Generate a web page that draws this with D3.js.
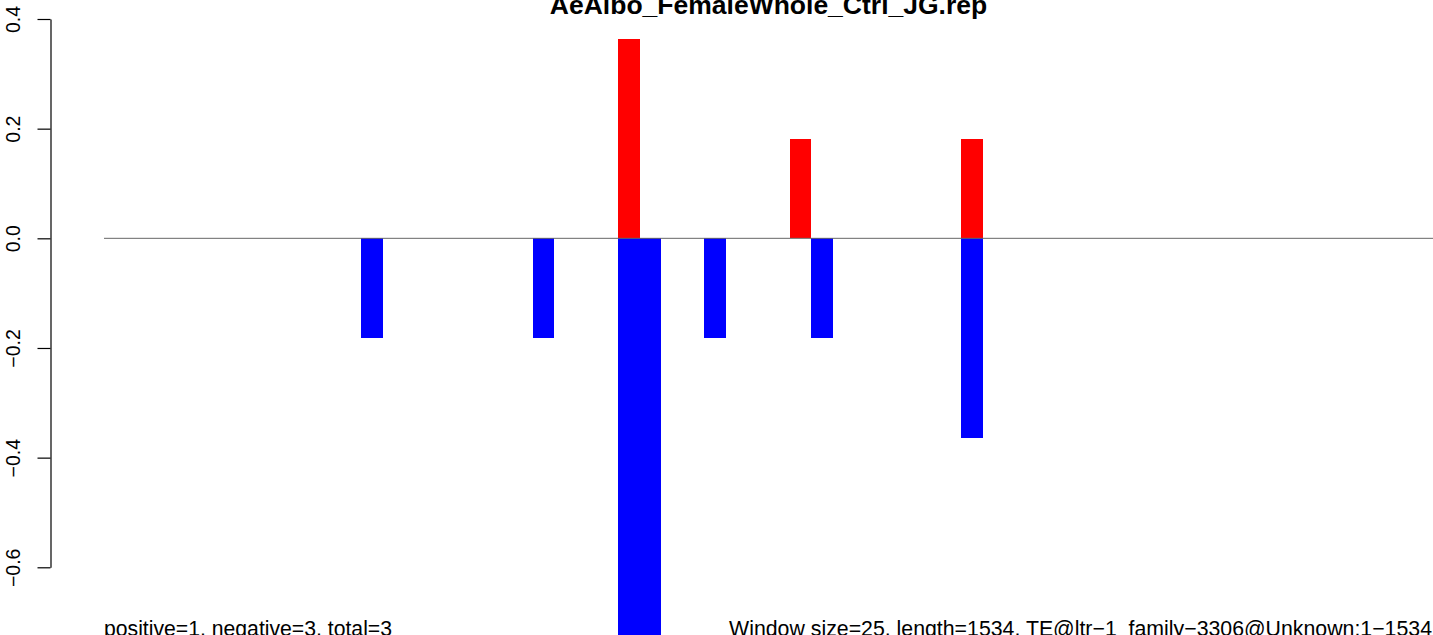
<!DOCTYPE html>
<html>
<head>
<meta charset="utf-8">
<script src="https://cdn.jsdelivr.net/npm/d3@7"></script>
<style>
  html, body { margin: 0; padding: 0; background: #fff; }
  svg { display: block; font-family: "Liberation Sans", Arial, Helvetica, sans-serif; }
</style>
</head>
<body>
<script>
// ---- data ----
const titleText = "AeAlbo_FemaleWhole_Ctrl_JG.rep";
const leftNote = "positive=1, negative=3, total=3";
const rightNote = "Window size=25, length=1534, TE@ltr\u22121_family\u22123306@Unknown:1\u22121534";
const nWindows = 62;
const posSlots = [24, 32, 40];
const posValues = [0.3636, 0.1818, 0.1818];
const negSlots = [12, 20, 24, 25, 28, 33, 40];
const negValues = [-0.1818, -0.1818, -0.7273, -0.7273, -0.1818, -0.1818, -0.3636];
const yTicks = [-0.6, -0.4, -0.2, 0.0, 0.2, 0.4];

// ---- layout ----
const W = 1433, H = 635;
const svg = d3.select("body").append("svg").attr("width", W).attr("height", H);

const x = d3.scaleLinear().domain([0, nWindows]).range([104, 1433]);
const y = d3.scaleLinear().domain([-0.6, 0.4]).range([567.3, 19.0]);

const posData = posSlots.map((s, i) => ({ s, v: posValues[i] }));
const negData = negSlots.map((s, i) => ({ s, v: negValues[i] }));

const bars = svg.append("g").attr("shape-rendering", "crispEdges");
bars.selectAll("rect.pos").data(posData).enter().append("rect")
  .attr("class", "pos")
  .attr("x", d => x(d.s))
  .attr("width", d => x(d.s + 1) - x(d.s))
  .attr("y", d => y(d.v))
  .attr("height", d => y(0) - y(d.v))
  .attr("fill", "#ff0000");
bars.selectAll("rect.neg").data(negData).enter().append("rect")
  .attr("class", "neg")
  .attr("x", d => x(d.s))
  .attr("width", d => x(d.s + 1) - x(d.s))
  .attr("y", y(0))
  .attr("height", d => y(d.v) - y(0))
  .attr("fill", "#0000ff");

// zero line
svg.append("line")
  .attr("x1", x(0)).attr("x2", x(nWindows))
  .attr("y1", y(0)).attr("y2", y(0))
  .attr("stroke", "#666666").attr("stroke-width", 1);

// y axis
const axisX = 50.5;
const yAxis = d3.axisLeft(y).tickValues(yTicks).tickSize(13).tickSizeOuter(0)
  .tickFormat(d3.format(".1f"));
const gAxis = svg.append("g").attr("transform", `translate(${axisX},0)`).call(yAxis);
gAxis.select(".domain").attr("stroke", "#000").attr("stroke-width", 1.2);
gAxis.selectAll(".tick line").attr("stroke", "#000").attr("stroke-width", 1.2);
gAxis.selectAll(".tick text")
  .attr("transform", "rotate(-90)")
  .attr("x", 0).attr("y", 19.5 - axisX).attr("dy", 0)
  .attr("text-anchor", "middle")
  .attr("fill", "#000")
  .style("font-size", "19.5px")
  .style("font-family", "\"Liberation Sans\", Arial, sans-serif");

// title
svg.append("text")
  .attr("x", (x(0) + x(nWindows)) / 2).attr("y", 13.5)
  .attr("text-anchor", "middle")
  .attr("font-weight", "bold")
  .style("font-size", "26.5px")
  .text(titleText);

// bottom notes
svg.append("text")
  .attr("x", x(0)).attr("y", 636)
  .attr("text-anchor", "start")
  .style("font-size", "21.2px")
  .text(leftNote);
svg.append("text")
  .attr("x", x(nWindows) - 1).attr("y", 636)
  .attr("text-anchor", "end")
  .style("font-size", "21.3px")
  .text(rightNote);
</script>
</body>
</html>
